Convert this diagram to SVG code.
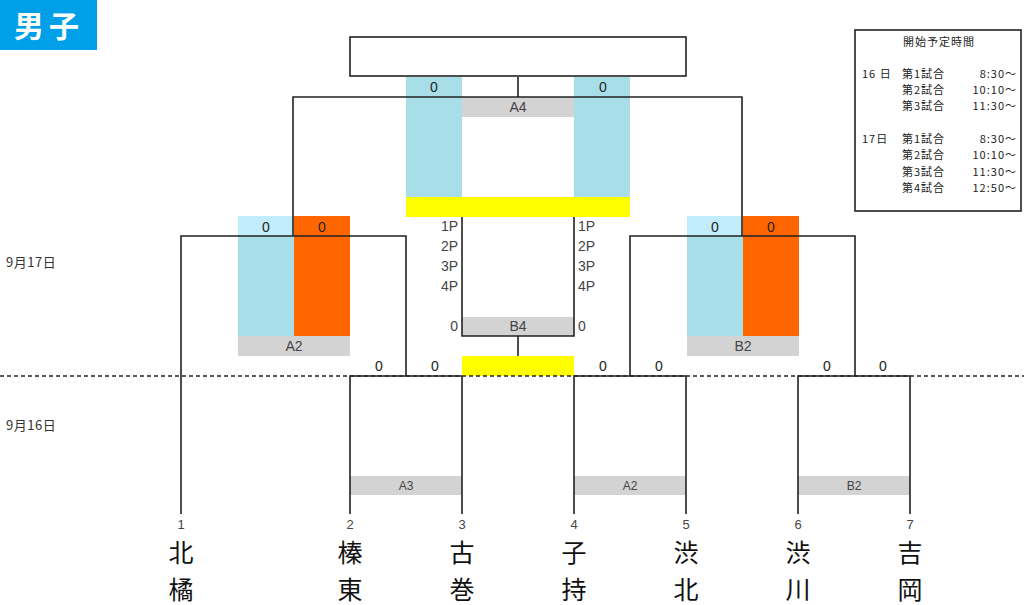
<svg xmlns="http://www.w3.org/2000/svg" width="1024" height="605" viewBox="0 0 1024 605">
<style>
text{font-family:"Liberation Sans","Noto Sans CJK JP",sans-serif;fill:#222}
.ln{stroke:#222;stroke-width:1.6;fill:none}
.sc{font-size:14px;text-anchor:middle}
.lab{font-size:14px;text-anchor:middle;fill:#444}
.sm{font-size:12px;fill:#444}
.dt{font-family:"Noto Sans CJK JP",sans-serif;font-size:13px;fill:#333;letter-spacing:0.5px}
.p{font-size:14px;fill:#444}
.num{font-size:13px;text-anchor:middle;fill:#444}
.nm{font-family:"Noto Sans CJK JP",sans-serif;font-size:25px;text-anchor:middle;fill:#111}
.sch{font-family:"Noto Sans CJK JP",sans-serif;font-size:11px;fill:#222;letter-spacing:1px}
.blue{fill:#A8DEE8}
.lblue{fill:#C2ECFB}
.org{fill:#FF6600}
.yel{fill:#FFFF00}
.gray{fill:#D3D3D3}
</style>
<rect width="1024" height="605" fill="#fff"/>
<g id="title">
<rect x="0" y="0" width="97" height="50" fill="#00A0E9"/>
<text x="49" y="37" font-family="Noto Sans CJK JP,sans-serif" font-size="30" font-weight="bold" text-anchor="middle" letter-spacing="5" style="fill:#fff">男子</text>
</g>
<g id="schedule">
<rect x="855" y="30" width="166" height="181" fill="#fff" stroke="#222" stroke-width="1.6"/>
<text class="sch" x="939" y="46" text-anchor="middle" letter-spacing="2.5">開始予定時間</text>
<text class="sch" x="862" y="78">16 日</text>
<text class="sch" x="902" y="78">第1試合</text><text class="sch" x="1017" y="78" text-anchor="end">8:30～</text>
<text class="sch" x="902" y="94">第2試合</text><text class="sch" x="1017" y="94" text-anchor="end">10:10～</text>
<text class="sch" x="902" y="110">第3試合</text><text class="sch" x="1017" y="110" text-anchor="end">11:30～</text>
<text class="sch" x="862" y="143">17日</text>
<text class="sch" x="902" y="143">第1試合</text><text class="sch" x="1017" y="143" text-anchor="end">8:30～</text>
<text class="sch" x="902" y="159">第2試合</text><text class="sch" x="1017" y="159" text-anchor="end">10:10～</text>
<text class="sch" x="902" y="176">第3試合</text><text class="sch" x="1017" y="176" text-anchor="end">11:30～</text>
<text class="sch" x="902" y="192">第4試合</text><text class="sch" x="1017" y="192" text-anchor="end">12:50～</text>
</g>
<g id="dates">
<text class="dt" x="6" y="267">9月17日</text>
<text class="dt" x="6" y="430">9月16日</text>
</g>
<g id="final">
<rect x="406" y="77" width="56" height="120" class="blue"/>
<rect x="574" y="77" width="56" height="120" class="blue"/>
<rect x="462" y="97" width="112" height="20" class="gray"/>
<rect x="406" y="197" width="224" height="20" class="yel"/>
<rect x="350" y="37" width="336" height="39" fill="#fff" stroke="#222" stroke-width="1.6"/>
<text class="sc" x="434" y="92">0</text>
<text class="sc" x="603" y="92">0</text>
<text class="lab" x="518" y="112">A4</text>
</g>
<g id="semi-left">
<rect x="238" y="216" width="56" height="20" class="lblue"/>
<rect x="238" y="236" width="56" height="100" class="blue"/>
<rect x="294" y="216" width="56" height="120" class="org"/>
<rect x="238" y="336" width="112" height="20" class="gray"/>
<text class="sc" x="266" y="232">0</text>
<text class="sc" x="322" y="232">0</text>
<text class="lab" x="294" y="351">A2</text>
</g>
<g id="semi-right">
<rect x="687" y="216" width="56" height="20" class="lblue"/>
<rect x="687" y="236" width="56" height="100" class="blue"/>
<rect x="743" y="216" width="56" height="120" class="org"/>
<rect x="687" y="336" width="112" height="20" class="gray"/>
<text class="sc" x="715" y="232">0</text>
<text class="sc" x="771" y="232">0</text>
<text class="lab" x="743" y="351">B2</text>
</g>
<g id="match-b4">
<rect x="462" y="317" width="112" height="19" class="gray"/>
<rect x="462" y="356" width="112" height="20" class="yel"/>
<text class="p" x="458" y="231" text-anchor="end">1P</text>
<text class="p" x="458" y="251" text-anchor="end">2P</text>
<text class="p" x="458" y="271" text-anchor="end">3P</text>
<text class="p" x="458" y="291" text-anchor="end">4P</text>
<text class="p" x="578" y="231">1P</text>
<text class="p" x="578" y="251">2P</text>
<text class="p" x="578" y="271">3P</text>
<text class="p" x="578" y="291">4P</text>
<text class="p" x="458" y="331" text-anchor="end">0</text>
<text class="lab" x="518" y="331">B4</text>
<text class="p" x="578" y="331">0</text>
</g>
<g id="round1">
<rect x="350" y="476" width="112" height="19" class="gray"/>
<rect x="574" y="476" width="112" height="19" class="gray"/>
<rect x="798" y="476" width="112" height="19" class="gray"/>
<text class="sm" x="406" y="490" text-anchor="middle">A3</text>
<text class="sm" x="630" y="490" text-anchor="middle">A2</text>
<text class="sm" x="854" y="490" text-anchor="middle">B2</text>
<text class="sc" x="379" y="371">0</text>
<text class="sc" x="435" y="371">0</text>
<text class="sc" x="603" y="371">0</text>
<text class="sc" x="659" y="371">0</text>
<text class="sc" x="827" y="371">0</text>
<text class="sc" x="883" y="371">0</text>
</g>
<g id="connectors">
<line x1="0" y1="376" x2="1024" y2="376" stroke="#222" stroke-width="1.4" stroke-dasharray="4,3"/>
<path class="ln" d="M181,514V236H406V376M350,514V376H462M462,514V376"/>
<path class="ln" d="M574,514V376H686V514M630,376V236H855V376M798,514V376H910V514"/>
<path class="ln" d="M293,236V97H742V236M518,77V97"/>
<path class="ln" d="M462,217V336H574V217M518,336V356"/>
</g>
<g id="team-1"><text class="num" x="181" y="529">1</text><text class="nm" x="181" y="562">北</text><text class="nm" x="181" y="599">橘</text></g>
<g id="team-2"><text class="num" x="350" y="529">2</text><text class="nm" x="350" y="562">榛</text><text class="nm" x="350" y="599">東</text></g>
<g id="team-3"><text class="num" x="462" y="529">3</text><text class="nm" x="462" y="562">古</text><text class="nm" x="462" y="599">巻</text></g>
<g id="team-4"><text class="num" x="574" y="529">4</text><text class="nm" x="574" y="562">子</text><text class="nm" x="574" y="599">持</text></g>
<g id="team-5"><text class="num" x="686" y="529">5</text><text class="nm" x="686" y="562">渋</text><text class="nm" x="686" y="599">北</text></g>
<g id="team-6"><text class="num" x="798" y="529">6</text><text class="nm" x="798" y="562">渋</text><text class="nm" x="798" y="599">川</text></g>
<g id="team-7"><text class="num" x="910" y="529">7</text><text class="nm" x="910" y="562">吉</text><text class="nm" x="910" y="599">岡</text></g>
</svg>
